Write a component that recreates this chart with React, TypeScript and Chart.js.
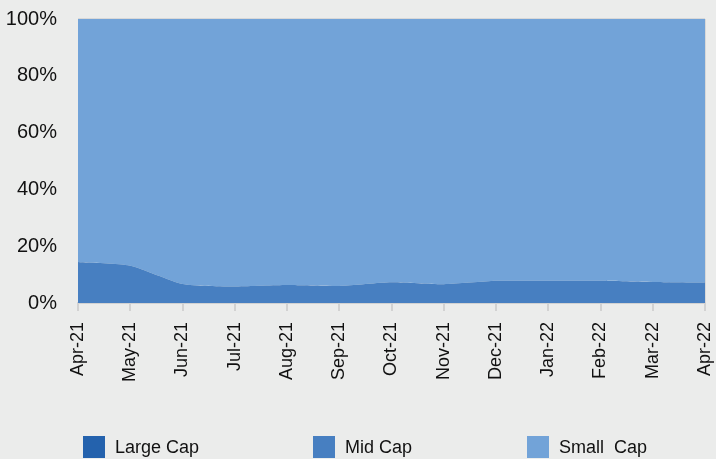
import React, { useEffect, useRef } from "react";
import { Chart, registerables } from "chart.js";

Chart.register(...registerables);

const categories = ["Apr-21", "May-21", "Jun-21", "Jul-21", "Aug-21", "Sep-21", "Oct-21", "Nov-21", "Dec-21", "Jan-22", "Feb-22", "Mar-22", "Apr-22"];
const largeCap = [0, 0, 0, 0, 0, 0, 0, 0, 0, 0, 0, 0, 0];
const midCap = [14.4, 13.1, 6.7, 5.8, 6.3, 6.0, 7.3, 6.6, 7.8, 7.8, 7.8, 7.4, 7.2];
const smallCap = midCap.map((m, i) => +(100 - m - largeCap[i]).toFixed(1));
const yTicks = [0, 20, 40, 60, 80, 100];

const seriesNames = ["Large Cap", "Mid Cap", "Small  Cap"];
const colors = ["#2462ad", "#477fc1", "#72a3d8"];

const FONT = "'Liberation Sans', Arial, sans-serif";

export default function App() {
  const ref = useRef<HTMLCanvasElement | null>(null);

  useEffect(() => {
    document.body.style.margin = "0";
    document.body.style.background = "#ebeceb";
    const canvas = ref.current;
    if (!canvas) return;
    const chart = new Chart(canvas, {
      type: "line",
      data: {
        labels: categories,
        datasets: [largeCap, midCap, smallCap].map((d, i) => ({
          label: seriesNames[i],
          data: d,
          backgroundColor: colors[i],
          borderColor: colors[i],
          borderWidth: 0,
          pointRadius: 0,
          tension: 0.2,
          fill: i === 0 ? "origin" : "-1",
        })),
      },
      options: {
        responsive: false,
        animation: false,
        layout: { padding: { top: 19, right: 11, left: 0, bottom: 0 } },
        plugins: { legend: { display: false }, tooltip: { enabled: false } },
        scales: {
          x: {
            stacked: true,
            offset: false,
            afterFit: (s: any) => {
              s.height = 459 - 303;
              s.paddingLeft = 0;
              s.paddingRight = 0;
            },
            grid: {
              drawOnChartArea: true,
              color: (c: any) => (c.index === categories.length - 1 ? "#d8d8d8" : "rgba(0,0,0,0)"),
              lineWidth: 2,
              tickColor: "#d2d2d2",
              tickLength: 8,
            },
            border: { display: true, color: "#d2d2d2", width: 2 },
            ticks: {
              minRotation: 90,
              maxRotation: 90,
              autoSkip: false,
              padding: 11,
              color: "#111",
              font: { family: FONT, size: 18 },
            },
          },
          y: {
            stacked: true,
            min: 0,
            max: 100,
            afterFit: (s: any) => {
              s.width = 78;
              s.paddingTop = 0;
              s.paddingBottom = 0;
            },
            afterBuildTicks: (s: any) => { s.ticks = yTicks.map((v) => ({ value: v })); },
            grid: {
              drawTicks: false,
              color: (c: any) => (c.tick && c.tick.value === 100 ? "#d8d8d8" : "rgba(0,0,0,0)"),
              lineWidth: 2,
            },
            border: { display: false },
            ticks: {
              padding: 21,
              color: "#111",
              font: { family: FONT, size: 20 },
              callback: (v: any) => v + "%",
            },
          },
        },
      },
    });
    return () => chart.destroy();
  }, []);

  const legendLeft = [83, 313, 527];

  return (
    <div style={{ position: "relative", width: 716, height: 459, background: "#ebeceb", overflow: "hidden" }}>
      <canvas ref={ref} width={716} height={459} style={{ display: "block" }} />
      {seriesNames.map((n, i) => (
        <div
          key={n}
          style={{
            position: "absolute",
            left: legendLeft[i],
            top: 436,
            height: 22,
            display: "flex",
            alignItems: "center",
            fontFamily: FONT,
            fontSize: 18,
            color: "#111",
            whiteSpace: "pre",
          }}
        >
          <span style={{ display: "inline-block", width: 22, height: 22, background: colors[i], marginRight: 10 }} />
          <span>{n}</span>
        </div>
      ))}
    </div>
  );
}
